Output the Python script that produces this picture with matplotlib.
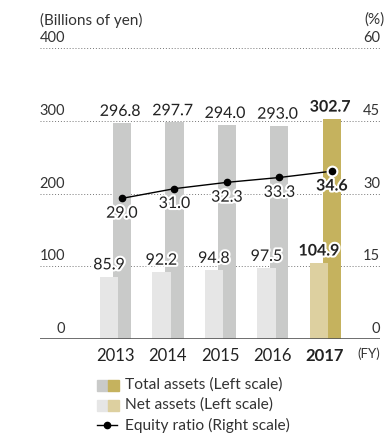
import matplotlib
matplotlib.use("Agg")
import matplotlib.pyplot as plt
import matplotlib.patheffects as pe
from matplotlib.patches import Rectangle
from matplotlib.lines import Line2D

plt.rcParams['font.family'] = ['Lato', 'DejaVu Sans']

years = ['2013', '2014', '2015', '2016', '2017']
total_assets = [296.8, 297.7, 294.0, 293.0, 302.7]
net_assets = [85.9, 92.2, 94.8, 97.5, 104.9]
equity_ratio = [29.0, 31.0, 32.3, 33.3, 34.6]
left_ticks = [0, 100, 200, 300, 400]
right_ticks = [0, 15, 30, 45, 60]

gray = '#c9cac9'
light = '#e6e6e6'
gold = '#c5b25e'
gold_light = '#ddd0a0'
txt = '#222222'

W, H = 389, 434
fig = plt.figure(figsize=(W / 100, H / 100), dpi=100)
ax = fig.add_axes([40 / W, 95 / H, 340 / W, 291 / H])
ax.set_xlim(-1.43, 5.05)
ax.set_ylim(0, 400)
ax.axis('off')

halo = [pe.withStroke(linewidth=3, foreground='white')]

# grid
for v in left_ticks[1:]:
    ax.axhline(v, color='#777777', lw=0.7, ls=(0, (1, 2)), zorder=0)
ax.axhline(0, color='#555555', lw=1.2, zorder=5)

w = 0.345
x = list(range(len(years)))
for i in x:
    last = i == len(years) - 1
    ax.bar(i + 0.133, total_assets[i], width=w, color=gold if last else gray, zorder=1)
    ax.bar(i - 0.114, net_assets[i], width=w, color=gold_light if last else light, zorder=2)
    fw = 'bold' if last else 'normal'
    ax.annotate(f'{total_assets[i]:.1f}', (i + 0.1, total_assets[i]), xytext=(0, 3),
                textcoords='offset points', ha='center', va='bottom', fontsize=11.5,
                fontweight=fw, color=txt, path_effects=halo, zorder=6)
    ax.annotate(f'{net_assets[i]:.1f}', (i - 0.114, net_assets[i]), xytext=(0, 3),
                textcoords='offset points', ha='center', va='bottom', fontsize=11.5,
                fontweight=fw, color=txt, path_effects=halo, zorder=6)
    ax.text(i, -12, years[i], ha='center', va='top', fontsize=12, fontweight=fw, color=txt)

# left / right scale labels
for v, r in zip(left_ticks, right_ticks):
    ax.annotate(str(v), (0.0735, v), xycoords=('axes fraction', 'data'), xytext=(0, 2),
                textcoords='offset points', ha='right', va='bottom', fontsize=10.5,
                color='#333333')
    ax.annotate(str(r), (1.0, v), xycoords=('axes fraction', 'data'), xytext=(0, 2),
                textcoords='offset points', ha='right', va='bottom', fontsize=10.5,
                color='#333333')
ax.text(1.0, -12, '(FY)', transform=ax.get_yaxis_transform(), ha='right', va='top',
        fontsize=9.5, color='#333333')
fig.text(40 / W, 1 - 20 / H, '(Billions of yen)', ha='left', va='center', fontsize=11,
         color='#333333')
fig.text(385 / W, 1 - 20 / H, '(%)', ha='right', va='center', fontsize=11, color='#333333')

# equity ratio on right scale
ax2 = ax.twinx()
ax2.set_ylim(0, 60)
ax2.axis('off')
lx = [i + 0.133 for i in x]
ax2.plot(lx, equity_ratio, color='black', lw=1, zorder=7)
ax2.plot(lx[:-1], equity_ratio[:-1], 'o', color='black', ms=4.5, zorder=8)
ax2.plot(lx[-1], equity_ratio[-1], 'o', color='black', ms=7, mec='white', mew=1.5, zorder=8)
for i in x:
    fw = 'bold' if i == len(years) - 1 else 'normal'
    ax2.annotate(f'{equity_ratio[i]:.1f}', (lx[i], equity_ratio[i]), xytext=(0, -6),
                 textcoords='offset points', ha='center', va='top', fontsize=11.5,
                 fontweight=fw, color=txt, path_effects=halo, zorder=9)

# legend
def fy(p):
    return 1 - p / H

leg = [('Total assets (Left scale)', gray, gold, 385),
       ('Net assets (Left scale)', light, gold_light, 405)]
for label, c1, c2, yy in leg:
    fig.patches.append(Rectangle((97 / W, fy(yy + 5.5)), 11 / W, 11 / H, color=c1,
                                 transform=fig.transFigure))
    fig.patches.append(Rectangle((108 / W, fy(yy + 5.5)), 11 / W, 11 / H, color=c2,
                                 transform=fig.transFigure))
    fig.text(125 / W, fy(yy), label, ha='left', va='center', fontsize=11.2, color='#333333')
fig.lines.append(Line2D([97 / W, 117 / W], [fy(425), fy(425)], color='black', lw=1,
                        transform=fig.transFigure))
fig.lines.append(Line2D([107 / W], [fy(425)], marker='o', ms=4.5, color='black',
                        transform=fig.transFigure))
fig.text(125 / W, fy(425), 'Equity ratio (Right scale)', ha='left', va='center', fontsize=11.2,
         color='#333333')

fig.savefig('out.png', dpi=100)
